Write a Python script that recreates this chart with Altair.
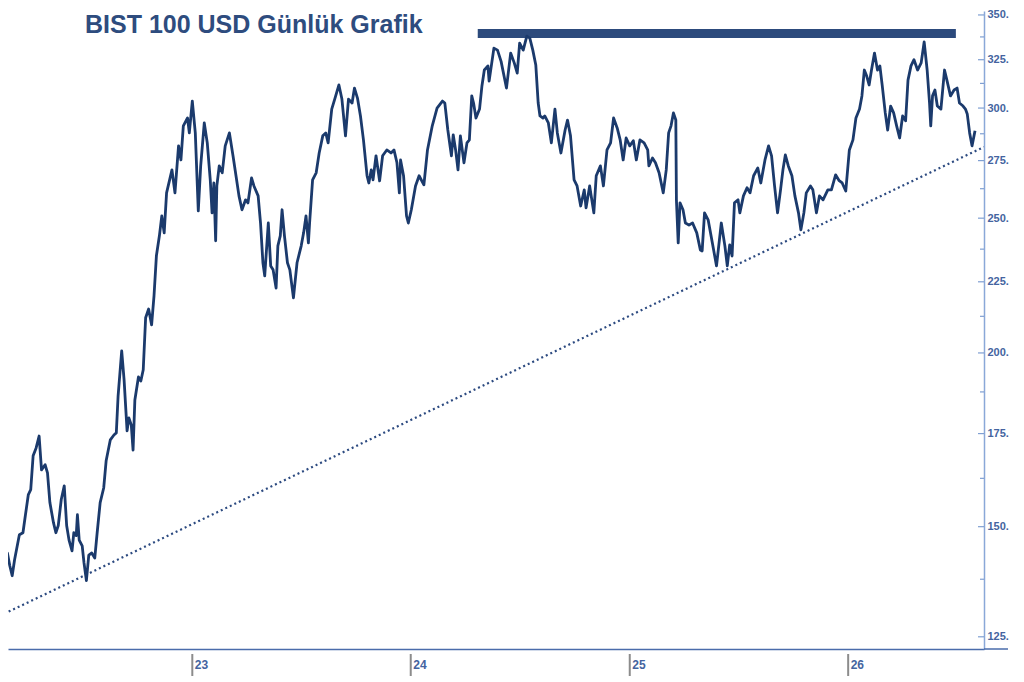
import altair as alt
import pandas as pd

# ---- price series (BIST 100 in USD) ----
d22 = ["2022-02-10","2022-02-16","2022-02-19","2022-02-20","2022-02-21","2022-02-26","2022-03-02","2022-03-06",
       "2022-03-10","2022-03-18","2022-03-24","2022-03-28","2022-04-02","2022-04-06","2022-04-10","2022-04-15",
       "2022-04-20","2022-04-24","2022-04-30","2022-05-04","2022-05-08","2022-05-14","2022-05-18","2022-05-22",
       "2022-05-27","2022-06-01","2022-06-05","2022-06-09","2022-06-14","2022-06-17","2022-06-21","2022-06-23",
       "2022-06-26","2022-07-01","2022-07-04","2022-07-08","2022-07-12","2022-07-17","2022-07-22","2022-07-26",
       "2022-07-31","2022-08-06","2022-08-10","2022-08-17","2022-08-23","2022-08-27","2022-08-30","2022-09-05",
       "2022-09-09","2022-09-14","2022-09-17","2022-09-21","2022-09-24","2022-09-27","2022-10-03","2022-10-07",
       "2022-10-11","2022-10-15","2022-10-20","2022-10-25","2022-10-29","2022-11-02","2022-11-07","2022-11-11",
       "2022-11-15","2022-11-19","2022-11-28","2022-12-03","2022-12-09","2022-12-13","2022-12-17","2022-12-24",
       "2022-12-27"]
v22 = [150.8,148.5,146.0,132.2,142.0,143.6,140.6,138.3,
       142.0,148.0,148.5,152.8,158.2,159.5,168.7,170.9,
       174.3,164.8,166.2,164.0,156.1,151.0,148.5,150.3,
       156.9,160.5,150.3,146.7,144.1,148.5,147.8,153.0,
       146.7,145.3,141.3,137.2,143.1,143.6,142.4,148.5,
       156.1,160.0,167.3,173.2,174.6,175.2,186.3,200.7,
       191.3,175.8,179.6,177.5,170.3,185.0,192.2,190.9,
       194.5,212.0,215.1,209.5,219.8,234.9,242.8,250.9,
       244.0,260.7,270.8,260.7,281.8,275.3,291.3,295.1,
       287.9]

d23 = ["2023-01-01","2023-01-06","2023-01-11","2023-01-15","2023-01-21","2023-01-26","2023-01-31","2023-02-03",
       "2023-02-06","2023-02-09","2023-02-11","2023-02-15","2023-02-20","2023-02-25","2023-03-04","2023-03-10",
       "2023-03-15","2023-03-20","2023-03-25","2023-03-31","2023-04-04","2023-04-10","2023-04-14","2023-04-21",
       "2023-04-25","2023-04-29","2023-05-02","2023-05-08","2023-05-12","2023-05-16","2023-05-21","2023-05-24",
       "2023-05-28","2023-05-31","2023-06-04","2023-06-09","2023-06-13","2023-06-19","2023-06-25","2023-07-02",
       "2023-07-06","2023-07-10","2023-07-14","2023-07-16","2023-07-21","2023-07-27","2023-08-01","2023-08-07",
       "2023-08-12","2023-08-16","2023-08-22","2023-08-27","2023-09-03","2023-09-08","2023-09-14","2023-09-19",
       "2023-09-25","2023-09-29","2023-10-04","2023-10-09","2023-10-14","2023-10-20","2023-10-23","2023-10-27",
       "2023-10-30","2023-11-04","2023-11-10","2023-11-15","2023-11-22","2023-11-29","2023-12-04","2023-12-09",
       "2023-12-13","2023-12-15","2023-12-20","2023-12-25","2023-12-28"]
v23 = [303.5,287.9,253.0,272.6,292.7,283.2,266.4,252.2,
       265.0,240.8,263.7,272.6,269.5,281.8,287.9,277.2,
       268.2,259.4,253.5,257.7,256.4,267.2,263.7,259.4,
       248.0,232.2,227.2,248.0,231.0,229.5,222.7,238.8,
       242.8,253.5,242.8,232.2,229.5,219.1,232.2,238.8,
       244.0,250.9,240.0,248.0,266.4,269.5,278.5,286.5,
       287.9,283.2,299.5,304.5,311.7,304.5,286.5,304.5,
       302.5,310.1,305.0,296.1,284.6,268.2,265.0,270.8,
       266.4,277.2,265.9,277.2,279.9,278.5,279.9,274.0,
       260.7,275.3,268.2,250.9,248.0]

d24 = ["2024-01-02","2024-01-09","2024-01-15","2024-01-23","2024-01-29","2024-02-06","2024-02-14","2024-02-23",
       "2024-02-27","2024-03-03","2024-03-09","2024-03-12","2024-03-16","2024-03-20","2024-03-24","2024-03-30",
       "2024-04-04","2024-04-08","2024-04-12","2024-04-15","2024-04-19","2024-04-25","2024-04-29","2024-05-03",
       "2024-05-09","2024-05-11","2024-05-19","2024-05-25","2024-05-31","2024-06-09","2024-06-16","2024-06-22",
       "2024-06-27","2024-07-01","2024-07-07","2024-07-13","2024-07-18","2024-07-23","2024-07-28","2024-08-01",
       "2024-08-04","2024-08-09","2024-08-12","2024-08-18","2024-08-23","2024-08-29","2024-09-02","2024-09-08",
       "2024-09-15","2024-09-19","2024-09-24","2024-09-30","2024-10-05","2024-10-11","2024-10-17","2024-10-20",
       "2024-10-26","2024-11-02","2024-11-06","2024-11-13","2024-11-18","2024-11-24","2024-11-30","2024-12-05",
       "2024-12-11","2024-12-16","2024-12-21","2024-12-26"]
v24 = [253.5,263.7,268.2,264.2,279.9,291.3,300.0,303.5,
       302.5,289.3,277.2,287.0,279.9,270.8,286.5,274.0,
       283.2,284.6,306.1,302.5,295.1,299.5,311.2,319.5,
       321.7,313.7,331.3,330.2,324.1,310.1,328.6,323.3,
       317.9,334.1,330.2,337.9,336.8,330.2,322.2,302.5,
       296.1,295.1,296.1,292.7,283.2,299.5,287.9,278.5,
       289.3,294.1,286.5,266.4,263.7,255.1,262.0,254.3,
       263.7,252.2,268.2,272.6,263.7,279.9,283.2,295.1,
       290.3,284.6,275.3,285.5]

d25 = ["2025-01-01","2025-01-07","2025-01-12","2025-01-18","2025-01-25","2025-01-31","2025-02-02","2025-02-08",
       "2025-02-13","2025-02-19","2025-02-26","2025-03-03","2025-03-07","2025-03-11","2025-03-15","2025-03-19",
       "2025-03-20","2025-03-23","2025-03-26","2025-03-31","2025-04-04","2025-04-10","2025-04-16","2025-04-23",
       "2025-04-29","2025-05-02","2025-05-06","2025-05-12","2025-05-19","2025-05-26","2025-06-03","2025-06-09",
       "2025-06-13","2025-06-17","2025-06-21","2025-06-25","2025-07-01","2025-07-04","2025-07-10","2025-07-16",
       "2025-07-21","2025-07-27","2025-08-03","2025-08-08","2025-08-15","2025-08-21","2025-08-26","2025-08-31",
       "2025-09-05","2025-09-10","2025-09-14","2025-09-18","2025-09-23","2025-09-29","2025-10-04","2025-10-10",
       "2025-10-14","2025-10-19","2025-10-23","2025-10-30","2025-11-03","2025-11-09","2025-11-14","2025-11-20",
       "2025-11-28","2025-12-04","2025-12-11","2025-12-17","2025-12-22","2025-12-28"]
v25 = [281.8,284.2,275.3,284.6,283.2,279.9,272.6,276.2,
       274.0,269.5,260.7,270.8,287.9,291.3,297.6,294.1,
       257.7,240.0,256.4,253.5,248.0,247.2,248.0,244.0,
       237.2,236.8,252.2,249.3,240.0,231.0,248.0,238.8,
       231.0,239.2,234.8,256.4,257.7,252.2,259.4,262.9,
       260.7,268.2,271.7,265.0,275.3,281.8,277.2,263.7,
       252.2,262.0,270.8,277.6,272.6,268.2,259.4,252.2,
       245.2,252.2,260.7,263.7,262.0,252.2,259.4,257.7,
       262.0,262.0,268.6,266.0,265.0,261.5]

d26 = ["2026-01-03","2026-01-09","2026-01-14","2026-01-20","2026-01-24","2026-01-28","2026-02-01","2026-02-05",
       "2026-02-09","2026-02-14","2026-02-19","2026-02-23","2026-02-27","2026-03-04","2026-03-08","2026-03-13",
       "2026-03-18","2026-03-23","2026-03-28","2026-04-02","2026-04-07","2026-04-11","2026-04-16","2026-04-21",
       "2026-04-27","2026-05-03","2026-05-08","2026-05-13","2026-05-17","2026-05-19","2026-05-22","2026-05-26",
       "2026-05-30","2026-06-05","2026-06-11","2026-06-15","2026-06-21","2026-06-27","2026-07-02","2026-07-06",
       "2026-07-12","2026-07-16","2026-07-19","2026-07-23","2026-07-27","2026-08-01"]
v26 = [279.9,284.6,295.1,299.5,306.1,319.5,316.3,311.7,
       319.5,328.6,319.5,321.7,311.2,297.6,289.3,301.0,
       297.6,291.3,285.5,296.1,293.7,314.2,321.7,325.0,
       319.5,323.3,334.7,319.5,302.5,291.3,306.1,309.1,
       301.0,299.5,319.5,314.2,306.1,309.1,310.1,302.5,
       301.0,299.5,297.1,287.9,281.8,288.9]

# resistance (thick bar) and rising support (dotted)
res_dates = ["2024-04-22", "2026-06-30"]
res_level = 339.4
trend_dates = ["2022-02-13", "2026-08-16"]
trend_values = [129.4, 281.3]

# axis ticks
major_ticks = [125, 150, 175, 200, 225, 250, 275, 300, 325, 350]
minor_ticks = [137.5, 162.5, 187.5, 212.5, 237.5, 262.5, 287.5, 312.5, 337.5]
year_ticks = ["2023-01-01", "2024-01-01", "2025-01-01", "2026-01-01"]
title_text = "BIST 100 USD Günlük Grafik"

price = pd.DataFrame({"date": d22 + d23 + d24 + d25 + d26,
                      "value": v22 + v23 + v24 + v25 + v26})
res_df = pd.DataFrame({"start": [res_dates[0]], "end": [res_dates[1]], "level": [res_level]})
trend_df = pd.DataFrame({"date": trend_dates, "value": trend_values})
major_df = pd.DataFrame({"v": major_ticks})
minor_df = pd.DataFrame({"v": minor_ticks})
year_df = pd.DataFrame({"date": year_ticks})
title_df = pd.DataFrame({"t": [title_text]})

W, H = 976, 638
NAVY = "#1b3a6c"
LABEL = "#4464a0"

x_scale = alt.Scale(type="utc",
                    domain=[alt.DateTime(year=2022, month=2, date=27, utc=True),
                            alt.DateTime(year=2026, month=8, date=16, utc=True)])
y_scale = alt.Scale(type="log", domain=[122.5, 352.3], nice=False, zero=False)

x_axis = alt.Axis(values=[alt.DateTime(year=y, month=1, date=1, utc=True) for y in (2023, 2024, 2025, 2026)],
                  labelExpr="utcFormat(datum.value, '%y')", ticks=False, grid=False, title=None,
                  domainColor="#4a6cab", domainWidth=1.5,
                  labelAlign="left", labelOffset=2, labelPadding=10,
                  labelFont="Liberation Sans", labelFontSize=12, labelFontWeight="bold",
                  labelColor=LABEL)
y_axis = alt.Axis(orient="right", values=major_ticks, labelExpr="datum.value + '.'",
                  ticks=False, grid=False, title=None,
                  domainColor="#8aa8d8", domainWidth=1.5, labelPadding=3,
                  labelFont="Liberation Sans", labelFontSize=11, labelFontWeight="bold",
                  labelColor=LABEL)

line = alt.Chart(price).mark_line(color=NAVY, strokeWidth=2.8, clip=True, strokeJoin="round").encode(
    x=alt.X("date:T", scale=x_scale, axis=x_axis),
    y=alt.Y("value:Q", scale=y_scale, axis=y_axis),
)

trend = alt.Chart(trend_df).mark_line(color="#2c4a80", strokeWidth=2.2, strokeDash=[2, 3], clip=True).encode(
    x="date:T", y="value:Q")

res = alt.Chart(res_df).mark_rule(color="#2c4a7c", strokeWidth=9, strokeCap="butt").encode(
    x="start:T", x2="end:T", y="level:Q")

major_t = alt.Chart(major_df).mark_rule(color="#7f9fd2", strokeWidth=1.2, clip=False).encode(
    y="v:Q", x=alt.value(970), x2=alt.value(976))
minor_t = alt.Chart(minor_df).mark_rule(color="#7f9fd2", strokeWidth=1.2, clip=False).encode(
    y="v:Q", x=alt.value(972), x2=alt.value(976))

year_t = alt.Chart(year_df).mark_rule(color="#8c8c8c", strokeWidth=2, clip=False).encode(
    x="date:T", y=alt.value(643), y2=alt.value(665))

axis_ext = alt.Chart(title_df).mark_rule(color="#4a6cab", strokeWidth=1.5, clip=False).encode(
    x=alt.value(976), x2=alt.value(1000), y=alt.value(638))

title = alt.Chart(title_df).mark_text(font="Liberation Sans", fontSize=25, fontWeight="bold", color="#2e4c7e",
                                      align="left", baseline="alphabetic").encode(
    text="t:N", x=alt.value(77), y=alt.value(22))

chart = alt.layer(trend, res, line, major_t, minor_t, year_t, axis_ext, title).properties(
    width=W, height=H, padding=0, background="white"
).configure_view(stroke=None)

chart.save("out.html", embed_options={"renderer": "svg", "actions": False})
